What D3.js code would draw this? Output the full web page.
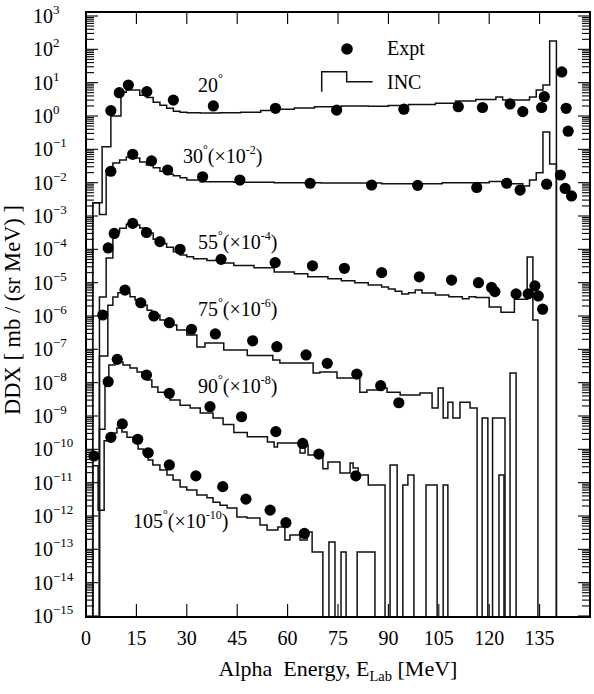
<!DOCTYPE html>
<html><head><meta charset="utf-8">
<script src="https://cdn.jsdelivr.net/npm/d3@7/dist/d3.min.js"></script>
<style>
body{margin:0;background:#fff}
svg{display:block}
text{font-family:"Liberation Serif","Times New Roman",serif;fill:#000}
</style>
</head><body>
<svg id="c" width="594" height="694"></svg>
<script>
// ---------------- data (plotted values, already multiplied by the label factors) ----------------
const angleLabels = ["20", "30", "55", "75", "90", "105"];
const factorExp   = ["", "-2", "-4", "-6", "-8", "-10"];
const xTicks = [0, 15, 30, 45, 60, 75, 90, 105, 120, 135];
const yDecades = d3.range(-15, 4);

// INC histograms: bin edges (MeV) and bin values
const inc20E = [0,2,4.8,7.4,10.4,12,16,18,20,22,24,26,28,30,34,40,46,52,56,62,68,76,84,90,96,104,110,116,122,124,132,134,136,138,140];
const inc20V = [0,2.5e-3,0.12,1.0,5.2,6.0,4.2,3.6,2.6,2.1,1.7,1.4,1.3,1.25,1.22,1.25,1.3,1.45,1.6,1.75,1.9,2.0,1.95,2.05,2.2,2.4,2.8,3.1,3.7,3.0,3.7,6.0,8.5,178];

const inc30E = [0,2,4,6,8,10,12,14,16,18,20,22,24,26,28,30,34,44,56,70,88,106,120,126,130,132,134,136,138,140];
const inc30V = [0,2.5e-3,1.1e-3,0.024,0.039,0.048,0.059,0.055,0.042,0.034,0.028,0.022,0.018,0.016,0.014,0.012,0.0107,0.0103,0.0100,0.0097,0.0093,0.0100,0.0108,0.0093,0.0080,0.012,0.020,0.33,0.036];

const inc55E = [0,4,6,8,10,12,14,16,18,20,22,24,26,28,30,32,36,40,44,50,56,62,66,72,76,80,84,88,90,92,94,96,98,100,104,108,112,114,116,120,123.5,127.5,131.3,133,134.5];
const inc55V = [0,3.7e-6,5.5e-5,3.3e-4,4.3e-4,5.7e-4,5.4e-4,4.4e-4,3.1e-4,2.0e-4,1.5e-4,1.15e-4,8.5e-5,6.8e-5,6.0e-5,5.2e-5,4.6e-5,3.9e-5,3.3e-5,2.8e-5,2.1e-5,1.85e-5,1.5e-5,1.3e-5,1.15e-5,1.0e-5,8.5e-6,7.4e-6,6.5e-6,5.5e-6,4.6e-6,5.0e-6,6.0e-6,4.9e-6,4.3e-6,3.8e-6,3.3e-6,3.8e-6,3.6e-6,1.85e-6,1.3e-6,3.2e-6,5.9e-5,7.6e-7];

const inc75E = [0,4,6.5,8,9.5,13.1,14.6,16.7,18.2,19.6,22,24.4,27,30,33,35.4,41,48,55.6,57.7,67.6,69.6,74.7,81.5,83.6,87.5,89.6,93.5,99.4,103,104.8,106.3,107.7,109.2,111.3,114.3,116.4,117.9,119.6,121,124.7,126.2,128];
const inc75V = [0,6.3e-8,2.1e-6,3.7e-6,5.0e-6,3.8e-6,3.0e-6,2.1e-6,1.5e-6,1.07e-6,7.6e-7,5.4e-7,3.8e-7,2.7e-7,1.17e-7,1.55e-7,9.5e-8,6.5e-8,4.8e-8,3.9e-8,1.95e-8,2.1e-8,1.38e-8,5.2e-9,6.0e-9,6.9e-9,5.2e-9,4.3e-9,4.9e-9,1.74e-9,6.9e-9,8.7e-10,2.6e-9,8.7e-10,2.6e-9,1.74e-9,0,8.7e-10,0,8.7e-10,0,1.95e-8];

const inc90E = [0,4,5.65,6.8,8.6,11,13.1,15.2,16.7,18.2,19.6,21.4,23.5,25,28,31,34,37.8,40.8,44,48,54,56,57,63.7,65.2,66.1,70.5,72,75.6,78.6,79.5,81,84,89,90.5,92.6,94.3,95.8,97.6,101.2,104.5,106.3,107.7,122.9,124.4];
const inc90V = [0,4e-10,8.5e-9,3.4e-8,4.2e-8,3.4e-8,2.75e-8,2.1e-8,1.48e-8,1.2e-8,7.4e-9,5.2e-9,4.3e-9,3.0e-9,2.1e-9,1.74e-9,1.23e-9,8.7e-10,5.6e-10,3.2e-10,2.4e-10,1.66e-10,1.17e-10,1.55e-10,7.8e-11,1.35e-10,6.8e-11,2.6e-11,4.2e-11,1.95e-11,3.9e-11,2.75e-11,1.7e-11,8.5e-12,0,3.4e-11,0,8.5e-12,1.7e-11,0,8.5e-12,0,8.5e-12,0,1.7e-11];

const inc105E = [0,2,3.6,5.4,7.1,9.2,10.7,12.2,14,15.5,17,18.5,19.9,22,24.1,25.9,28,30,33,36,37.8,39.9,42,44.9,47.9,51.8,53.9,57.1,59.2,60.7,63.7,65.8,67.3,70.5,72.3,74.1,75.9,77.4,80.7,86];
const inc105V = [0,3.2e-11,1.5e-12,1.8e-10,3.1e-10,4.4e-10,3.3e-10,2.3e-10,1.66e-10,1.02e-10,7.8e-11,4.8e-11,3.4e-11,2.4e-11,1.7e-11,1.2e-11,7.4e-12,6.0e-12,4.3e-12,3.5e-12,2.6e-12,2.1e-12,1.74e-12,9.3e-13,8.7e-13,5.4e-13,3.8e-13,4.7e-13,1.9e-13,2.7e-13,1.9e-13,3.3e-13,8.3e-14,0,1.66e-13,0,8.3e-14,0,8.3e-14];

// Experimental points
const exp20E = [7.4,9.9,12.6,18.1,26,37.9,56.4,74.6,94.6,110.8,118,126.2,130,135.6,136.4,141.6,142.9,143.5];
const exp20V = [1.45,5.0,8.5,5.4,3.0,2.0,1.7,1.5,1.6,1.9,1.8,2.3,1.35,1.8,3.8,21,1.7,0.35];
const exp30E = [7.4,13.9,19.5,24.3,34.7,45.8,66.7,85,98.7,116.3,125.2,129.2,137.1,141.2,142.6,144.5];
const exp30V = [0.022,0.071,0.045,0.024,0.015,0.012,0.0096,0.0085,0.0083,0.0072,0.0096,0.006,0.009,0.017,0.0067,0.004];
const exp55E = [6.6,8.4,13.9,18,22,28,40.2,56.3,67.4,76.9,88,99.2,108.8,116.8,120.7,121.7,128,131.6,133.6,134.6,135.9];
const exp55V = [1.1e-4,3e-4,6e-4,3.2e-4,1.7e-4,1e-4,5e-5,4e-5,3.2e-5,2.7e-5,2e-5,1.5e-5,1.2e-5,1e-5,7.2e-6,5.4e-6,4.6e-6,4.6e-6,8e-6,4e-6,1.6e-6];
const exp75E = [5,11.6,16.3,20.2,24.8,31.4,38.5,49.6,56.8,65.5,71.8,80.6,87.7,93.1];
const exp75V = [1.07e-6,6e-6,2.5e-6,1e-6,6.3e-7,4e-7,2.9e-7,1.8e-7,1.2e-7,6.8e-8,3.8e-8,1.8e-8,8.1e-9,2.5e-9];
const exp90E = [6.6,9.3,18,24.8,36.9,46.3,56.5,64.5,69.3,80.3];
const exp90V = [1.07e-8,5e-8,1.7e-8,4.8e-9,1.9e-9,9.5e-10,3.4e-10,1.5e-10,7.2e-11,1.6e-11];
const exp105E = [2.4,7.4,10.8,15.4,18.5,24.8,32.7,40.7,47.6,54.8,59.5,65];
const exp105V = [6.3e-11,2.3e-10,5.8e-10,2.0e-10,7.9e-11,3.4e-11,1.6e-11,7.6e-12,3.2e-12,1.5e-12,6.3e-13,3.0e-13];

// ---------------- drawing ----------------
const svg = d3.select("#c");
const X0 = 86, X1 = 590, Y0 = 12, Y1 = 617;
const x = d3.scaleLinear().domain([0, 150]).range([X0, X1]);
const y = d3.scaleLog().domain([1e-15, 1e3]).range([616, 16]);
const yv = v => (v > 1e-15 ? y(v) : Y1);

svg.append("defs").append("clipPath").attr("id", "clip")
  .append("rect").attr("x", X0).attr("y", Y0).attr("width", X1 - X0).attr("height", Y1 - Y0);

const hists = [[inc20E, inc20V], [inc30E, inc30V], [inc55E, inc55V], [inc75E, inc75V], [inc90E, inc90V], [inc105E, inc105V]];
const expts = [[exp20E, exp20V], [exp30E, exp30V], [exp55E, exp55V], [exp75E, exp75V], [exp90E, exp90V], [exp105E, exp105V]];

const line = d3.line().x(d => d[0]).y(d => d[1]);
function stepPoints(E, V) {
  const pts = [[x(E[0]), Y1]];
  for (let i = 0; i < V.length; i++) {
    const yy = yv(V[i]);
    pts.push([x(E[i]), yy]);
    pts.push([x(E[i + 1]), yy]);
  }
  pts.push([x(E[V.length]), Y1]);
  return pts;
}

const gH = svg.append("g").attr("clip-path", "url(#clip)");
gH.selectAll("path.h").data(hists).join("path").attr("class", "h")
  .attr("d", d => line(stepPoints(d[0], d[1])))
  .attr("fill", "none").attr("stroke", "#111").attr("stroke-width", 1.5)
  .attr("stroke-linejoin", "miter");

// points
expts.forEach(([E, V]) => {
  gH.append("g").selectAll("circle").data(E.map((e, i) => [e, V[i]])).join("circle")
    .attr("cx", d => x(d[0])).attr("cy", d => y(d[1])).attr("r", 5.6).attr("fill", "#000");
});

// frame
svg.append("rect").attr("x", X0).attr("y", Y0).attr("width", X1 - X0).attr("height", Y1 - Y0)
  .attr("fill", "none").attr("stroke", "#000").attr("stroke-width", 2);

// y ticks (both sides, inside)
const major = yDecades.map(d => Math.pow(10, d));
const minor = [];
yDecades.slice(0, -1).forEach(d => { for (let k = 2; k <= 9; k++) minor.push(k * Math.pow(10, d)); });
const gT = svg.append("g").attr("stroke", "#000").attr("stroke-width", 1.1);
[[major, 12], [minor, 8]].forEach(([vals, len]) => {
  gT.selectAll(null).data(vals).join("line")
    .attr("x1", X0).attr("x2", X0 + len).attr("y1", d => y(d)).attr("y2", d => y(d));
  gT.selectAll(null).data(vals).join("line")
    .attr("x1", X1).attr("x2", X1 - len).attr("y1", d => y(d)).attr("y2", d => y(d));
});
// x ticks bottom & top
gT.selectAll(null).data(xTicks).join("line")
  .attr("x1", d => x(d)).attr("x2", d => x(d)).attr("y1", Y1).attr("y2", Y1 - 13);
gT.selectAll(null).data(xTicks).join("line")
  .attr("x1", d => x(d)).attr("x2", d => x(d)).attr("y1", Y0).attr("y2", Y0 + 12);

// x tick labels
svg.append("g").selectAll("text").data(xTicks).join("text")
  .attr("x", d => x(d)).attr("y", 645).attr("text-anchor", "middle")
  .attr("font-size", 20).text(d => d);

// y tick labels
const yl = svg.append("g").selectAll("text").data(yDecades).join("text")
  .attr("x", 33).attr("y", d => y(Math.pow(10, d)) + 7).attr("font-size", 20);
yl.append("tspan").text("10");
yl.append("tspan").attr("font-size", 13).attr("dy", -9).text(d => (d < 0 ? "\u2212" + (-d) : d));

// axis titles
svg.append("text").attr("transform", "translate(20,310) rotate(-90)")
  .attr("text-anchor", "middle").attr("font-size", 22.5).text("DDX [ mb / (sr MeV) ]");
const xt = svg.append("text").attr("x", 338).attr("y", 676).attr("text-anchor", "middle").attr("font-size", 22);
xt.append("tspan").text("Alpha\u00a0 Energy, E");
xt.append("tspan").attr("font-size", 14.5).attr("dy", 5).text("Lab");
xt.append("tspan").attr("dy", -5).text(" [MeV]");

// curve annotations
const annPos = [[198, 92], [183, 163], [198, 249], [198, 316], [198, 393], [133, 528]];
angleLabels.forEach((a, i) => {
  const t = svg.append("text").attr("x", annPos[i][0]).attr("y", annPos[i][1]).attr("font-size", 20);
  t.append("tspan").text(a);
  t.append("tspan").attr("font-size", 12).attr("dy", -10).text("\u00b0");
  if (factorExp[i]) {
    t.append("tspan").attr("dy", 10).text("(\u00d710");
    t.append("tspan").attr("font-size", 12).attr("dy", -9).text(factorExp[i]);
    t.append("tspan").attr("dy", 9).text(")");
  }
});

// legend
svg.append("circle").attr("cx", 347).attr("cy", 49).attr("r", 5.8).attr("fill", "#000");
svg.append("text").attr("x", 387).attr("y", 55).attr("font-size", 20).text("Expt");
svg.append("path").attr("d", "M321.7,91.7V71.7H346.7V81.7H372.7")
  .attr("fill", "none").attr("stroke", "#111").attr("stroke-width", 1.5);
svg.append("text").attr("x", 387).attr("y", 89).attr("font-size", 20).text("INC");
</script>
</body></html>
